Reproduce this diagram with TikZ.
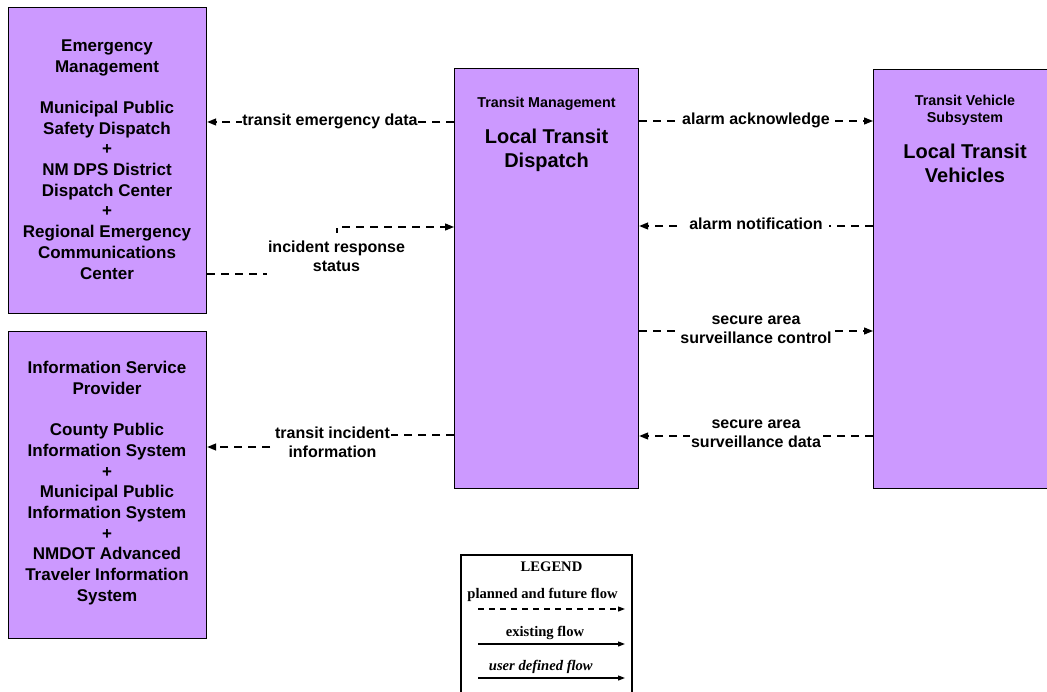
\documentclass[tikz,border=0pt]{standalone}
\usepackage{fontspec}
\setmainfont{Liberation Sans}
\newfontfamily\legfont{Liberation Serif}
\usetikzlibrary{arrows.meta}
\definecolor{boxfill}{RGB}{204,153,255}
\tikzset{
  sysbox/.style={draw=black, line width=1.2pt, fill=boxfill, rectangle, inner sep=0pt, anchor=north west},
  boxtxt/.style={align=center, inner sep=0pt, anchor=north, font=\bfseries\fontsize{17}{20.7}\selectfont, execute at begin node=\strut},
  hdrtxt/.style={align=center, inner sep=0pt, anchor=north, font=\bfseries\fontsize{14.3}{16.6}\selectfont, execute at begin node=\strut},
  nametxt/.style={align=center, inner sep=0pt, anchor=north, font=\bfseries\fontsize{20}{24.3}\selectfont, execute at begin node=\strut},
  flowlab/.style={align=center, fill=white, inner xsep=0.8pt, inner ysep=0.5pt, font=\bfseries\fontsize{16}{19}\selectfont, execute at begin node=\strut, execute at end node=\strut},
  flow/.style={line width=1.3pt, dash pattern=on 8pt off 6pt, -{Triangle[length=9pt,width=7pt]}},
  legbox/.style={draw=black, line width=1.6pt, fill=white, rectangle, inner sep=0pt, anchor=north west},
  legtxt/.style={inner sep=0pt, anchor=base, font=\legfont\bfseries\fontsize{14.6}{16}\selectfont},
  legarrow/.style={line width=1.2pt, -{Triangle[length=7pt,width=5pt]}}
}
\begin{document}
\begin{tikzpicture}[x=1pt,y=-1pt]
\useasboundingbox (0,0) rectangle (1047,692);
% boxes
\node[sysbox, minimum width=198pt, minimum height=306pt] (b1) at (8,7) {};
\node[sysbox, minimum width=198pt, minimum height=307pt] (b2) at (8,331) {};
\node[sysbox, minimum width=184pt, minimum height=420pt] (b3) at (454,68) {};
\node[sysbox, minimum width=184pt, minimum height=419pt] (b4) at (873,69) {};
% box texts
\node[boxtxt] (t1) at (107,39.5) {Emergency\\Management\\[20.7pt]Municipal Public\\Safety Dispatch\\+\\NM DPS District\\Dispatch Center\\+\\Regional Emergency\\Communications\\Center};
\node[boxtxt] (t2) at (107,361) {Information Service\\Provider\\[20.7pt]County Public\\Information System\\+\\Municipal Public\\Information System\\+\\NMDOT Advanced\\Traveler Information\\System};
\node[hdrtxt] (t3a) at (546.5,95.5) {Transit Management};
\node[nametxt] (t3b) at (546.5,129) {Local Transit\\Dispatch};
\node[hdrtxt] (t4a) at (965,95.1) {Transit Vehicle\\Subsystem};
\node[nametxt] (t4b) at (965,144) {Local Transit\\Vehicles};
% connector coordinates
\coordinate (y1) at (330,122);
\coordinate (k2a) at (337,274);
\coordinate (k2b) at (337,227);
\coordinate (k3a) at (330,435);
\coordinate (k3b) at (330,447);
\coordinate (y4) at (756,121);
\coordinate (y5) at (756,226);
\coordinate (y6) at (756,331);
\coordinate (y7) at (756,436);
% connectors
\draw[flow] (b3.west |- y1) -- (b1.east |- y1);
\draw[flow] (b1.east |- k2a) -- (k2a) -- (k2b) -- (b3.west |- k2b);
\draw[flow] (b3.west |- k3a) -- (k3a) -- (k3b) -- (b2.east |- k3b);
\draw[flow] (b3.east |- y4) -- (b4.west |- y4);
\draw[flow] (b4.west |- y5) -- (b3.east |- y5);
\draw[flow] (b3.east |- y6) -- (b4.west |- y6);
\draw[flow] (b4.west |- y7) -- (b3.east |- y7);
% labels
\node[flowlab] (l1) at (y1) {transit emergency data};
\node[flowlab, inner ysep=8pt] (l2) at (336.5,258.7) {incident response\\status};
\node[flowlab] (l3) at (332.5,445) {transit incident\\information};
\node[flowlab] (l4) at (y4) {alarm acknowledge};
\node[flowlab, inner xsep=6pt] (l5) at (y5) {alarm notification};
\node[flowlab] (l6) at (756,333) {secure area\\surveillance control};
\node[flowlab] (l7) at (756,437) {secure area\\surveillance data};
% legend
\node[legbox, minimum width=171pt, minimum height=160pt] (leg) at (460,554) {};
\node[legtxt] (lg0) at (551.5,571.7) {LEGEND};
\node[legtxt] (lg1) at (542.5,598.3) {planned and future flow};
\node[legtxt] (lg2) at (545,636) {existing flow};
\node[legtxt] (lg3) at (540.8,670) {\itshape user defined flow};
\coordinate (la1) at (478,609);
\coordinate (lb1) at (625,609);
\coordinate (la2) at (478,644);
\coordinate (lb2) at (625,644);
\coordinate (la3) at (478,678);
\coordinate (lb3) at (625,678);
\draw[legarrow, dash pattern=on 6pt off 5pt] (la1) -- (lb1);
\draw[legarrow] (la2) -- (lb2);
\draw[legarrow] (la3) -- (lb3);
\end{tikzpicture}
\end{document}
